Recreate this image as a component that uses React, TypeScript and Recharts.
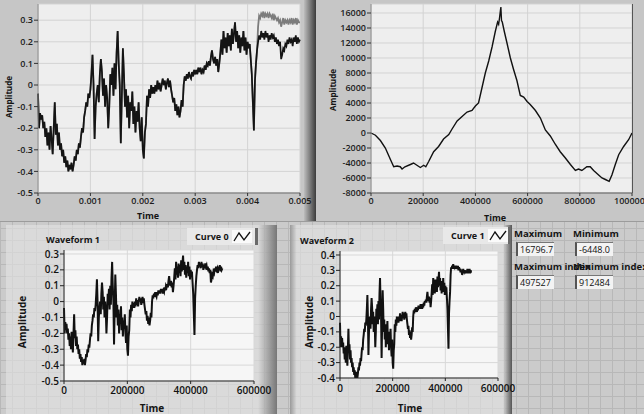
import { CartesianGrid, Line, LineChart, XAxis, YAxis } from "recharts";

// samples are 2000 apart (0.00002 s)
const SAMPLE_STEP_K = 2;

// Curve 0 and Curve 1 are the same up to sample 418000
const sharedHead = [
  -0.04, -0.2, -0.13, -0.16, -0.14, -0.2, -0.17, -0.24, -0.2, -0.28,
  -0.22, -0.3, -0.19, -0.25, -0.32, -0.2, -0.08, -0.23, -0.18, -0.28,
  -0.22, -0.3, -0.27, -0.33, -0.3, -0.36, -0.33, -0.38, -0.35, -0.4,
  -0.37, -0.39, -0.36, -0.4, -0.37, -0.33, -0.35, -0.3, -0.32, -0.27,
  -0.29, -0.24, -0.2, -0.22, -0.15, -0.12, -0.08, -0.1, -0.04, -0.06,
  -0.02, 0.05, 0.14, 0.0, -0.25, -0.1, -0.04, 0.0, -0.08, 0.05,
  0.12, 0.06, -0.05, 0.03, -0.1, 0.0, -0.06, -0.2, -0.1, 0.05,
  0.0, 0.08, -0.05, 0.1, -0.02, 0.15, 0.25, 0.1, 0.0, -0.27,
  -0.05, 0.17, 0.05, -0.1, -0.02, -0.15, -0.05, -0.2, -0.08, -0.12,
  -0.03, -0.18, -0.1, -0.22, -0.12, -0.17, -0.08, -0.2, -0.26, -0.15,
  -0.3, -0.34, -0.22, -0.18, -0.05, -0.1, -0.02, -0.06, 0.0, -0.04,
  -0.01, -0.04, 0.0, -0.03, 0.02, -0.02, 0.01, -0.03, 0.0, 0.03,
  0.0, 0.02, -0.02, 0.01, 0.03, -0.01, 0.02, -0.02, -0.05, -0.08,
  -0.06, -0.12, -0.09, -0.14, -0.1, -0.15, -0.12, -0.07, -0.1, 0.0,
  0.04, 0.02, 0.05, 0.03, 0.06, 0.04, 0.03, 0.06, 0.04, 0.07,
  0.05, 0.07, 0.05, 0.08, 0.06, 0.08, 0.05, 0.07, 0.06, 0.09,
  0.07, 0.1, 0.09, 0.11, 0.09, 0.13, 0.16, 0.12, 0.1, 0.13,
  0.09, 0.12, 0.06, 0.1, 0.15, 0.21, 0.14, 0.25, 0.17, 0.22,
  0.15, 0.24, 0.18, 0.23, 0.16, 0.26, 0.19, 0.24, 0.29, 0.2,
  0.25, 0.17, 0.23, 0.15, 0.22, 0.18, 0.25, 0.16, 0.22, 0.14,
  0.2, 0.17, 0.19, 0.12, 0.05, -0.08, -0.21, 0.02, 0.1, 0.16,
];

const curve0Tail = [
  0.2, 0.23, 0.21, 0.25, 0.22, 0.24, 0.21, 0.25, 0.22, 0.24,
  0.2, 0.23, 0.21, 0.24, 0.22, 0.23, 0.2, 0.22, 0.19, 0.21,
  0.18, 0.2, 0.12, 0.14, 0.17, 0.16, 0.19, 0.18, 0.21, 0.19,
  0.22, 0.2, 0.21, 0.18, 0.22, 0.2, 0.23, 0.19, 0.22, 0.2,
  0.21,
];

const curve1Tail = [
  0.27, 0.32, 0.31, 0.33, 0.32, 0.34, 0.31, 0.33, 0.32, 0.33,
  0.31, 0.33, 0.32, 0.31, 0.33, 0.3, 0.32, 0.31, 0.3, 0.31,
  0.29, 0.3, 0.27, 0.29, 0.31, 0.28, 0.3, 0.29, 0.3, 0.28,
  0.3, 0.29, 0.31, 0.28, 0.3, 0.29, 0.31, 0.28, 0.3, 0.29,
  0.29,
];

const curve0 = [...sharedHead, ...curve0Tail];
const curve1 = [...sharedHead, ...curve1Tail];

// cumulative sum, x in thousands of samples
const cumIndexK = [
  0, 17, 36, 55, 74, 87, 100, 112, 119, 130,
  151, 163, 176, 189, 202, 210, 221, 240, 259, 278,
  298, 310, 330, 349, 368, 387, 400, 412, 425, 438,
  451, 464, 476, 485, 489, 493, 497.5, 500, 503, 511,
  521, 534, 546, 559, 572, 585, 598, 610, 630, 649,
  668, 687, 706, 725, 744, 764, 783, 795, 808, 827,
  840, 853, 872, 885, 898, 912.5, 923, 936, 949, 968,
  987, 1000,
];
const cumValue = [
  0, -300, -1000, -2000, -3500, -4500, -4400, -4500, -4800, -4500,
  -4200, -4000, -4300, -4600, -4300, -4500, -3800, -2500, -1800, -800,
  -200, 500, 1600, 2200, 2800, 3000, 3600, 4000, 6000, 8000,
  9600, 11500, 13500, 14800, 14500, 15500, 16796.7, 15000, 14800, 13500,
  12000, 10000, 8500, 7000, 5000, 4800, 4200, 3800, 3000, 2000,
  400, -400, -1500, -2500, -3300, -4200, -5000, -4800, -5000, -4500,
  -4500, -5000, -5600, -6000, -6200, -6448, -5600, -4200, -2900, -1800,
  -900, 0,
];

const timeTicks = [0, 100, 200, 300, 400, 500];
const timeTickLabels = ["0", "0.001", "0.002", "0.003", "0.004", "0.005"];
const sumTicks = [0, 200, 400, 600, 800, 1000];
const sumTickLabels = ["0", "200000", "400000", "600000", "800000", "1000000"];
const indexTicks = [0, 200, 400, 600];
const indexTickLabels = ["0", "200000", "400000", "600000"];
const amp1Ticks = [-0.5, -0.4, -0.3, -0.2, -0.1, 0, 0.1, 0.2, 0.3];
const amp2Ticks = [-0.4, -0.3, -0.2, -0.1, 0, 0.1, 0.2, 0.3, 0.4];
const sumYTicks = [-8000, -6000, -4000, -2000, 0, 2000, 4000, 6000, 8000, 10000, 12000, 14000, 16000];

const indicators = [
  { label: "Maximum", value: "16796.7" },
  { label: "Minimum", value: "-6448.0" },
  { label: "Maximum index", value: "497527" },
  { label: "Minimum index", value: "912484" },
];

const waveData = curve0.map((v, i) => ({ k: i * SAMPLE_STEP_K, c0: v, c1: curve1[i] }));
const sumData = cumIndexK.map((k, i) => ({ k, v: cumValue[i] }));

const FONT = "'Open Sans', 'Noto Sans', sans-serif";
const smallTick = { fill: "#1c1c1c", fontSize: 9, fontWeight: 600, fontFamily: FONT };
const bigTick = { fill: "#111", fontSize: 10, fontWeight: 600, fontFamily: FONT };

const labelOf = (ticks: number[], labels: string[]) => (v: number) => labels[ticks.indexOf(v)] ?? String(v);

function Title({ x, y, text, size = 9, rotate = false }: { x: number; y: number; text: string; size?: number; rotate?: boolean }) {
  return (
    <div
      style={{
        position: "absolute",
        left: x,
        top: y,
        transform: `translate(-50%, -50%)${rotate ? " rotate(-90deg)" : ""}`,
        fontFamily: FONT,
        fontWeight: 700,
        fontSize: size,
        color: "#151515",
        whiteSpace: "nowrap",
      }}
    >
      {text}
    </div>
  );
}

function LegendBox({ x, y, w, text }: { x: number; y: number; w: number; text: string }) {
  return (
    <div
      style={{
        position: "absolute",
        left: x,
        top: y,
        width: w,
        height: 17,
        background: "#e8e8e8",
        borderRight: "3px solid #6a6a6a",
        boxSizing: "border-box",
        display: "flex",
        alignItems: "center",
        paddingLeft: 8,
        fontFamily: FONT,
        fontWeight: 700,
        fontSize: 9,
        color: "#151515",
      }}
    >
      <span>{text}</span>
      <svg width={20} height={13} style={{ marginLeft: 3, background: "#fafafa" }}>
        <polyline points="2,11 7,3 12,10 18,2" fill="none" stroke="#111" strokeWidth={1.3} />
      </svg>
    </div>
  );
}

export default function App() {
  return (
    <div
      style={{
        position: "absolute",
        left: 0,
        top: 0,
        width: 644,
        height: 414,
        overflow: "hidden",
        backgroundColor: "#cbcbcb",
        backgroundImage:
          "linear-gradient(#b8b8b8 1px, transparent 1px), linear-gradient(90deg, #b8b8b8 1px, transparent 1px)",
        backgroundSize: "12px 12px",
      }}
    >
      {/* top panels */}
      <div style={{ position: "absolute", left: 0, top: 0, width: 644, height: 221, background: "#c6c6c6", borderBottom: "1px solid #9c9c9c" }} />
      <div style={{ position: "absolute", left: 304, top: 0, width: 12, height: 221, background: "linear-gradient(to right, #bdbdbd, #3c3c3c)" }} />

      {/* bottom panels */}
      <div style={{ position: "absolute", left: 6, top: 225, width: 271, height: 189, background: "linear-gradient(to right, rgba(228,228,228,0.6) 93%, #777 100%)" }} />
      <div style={{ position: "absolute", left: 290, top: 225, width: 222, height: 189, background: "linear-gradient(to right, #9a9a9a 0%, rgba(228,228,228,0.6) 3%, rgba(228,228,228,0.6) 96%, #555 100%)" }} />

      <div style={{ position: "absolute", left: 0, top: 0 }}>
        <LineChart width={312} height={220} data={waveData} margin={{ top: 4, right: 12, left: 0, bottom: 0 }}>
          <CartesianGrid fill="#eeeeee" stroke="#d3d3d3" />
          <XAxis dataKey="k" type="number" domain={[0, 500]} ticks={timeTicks} interval={0} tickFormatter={labelOf(timeTicks, timeTickLabels)} height={27} tick={smallTick} tickSize={3} tickMargin={2} axisLine={{ stroke: "#666" }} tickLine={{ stroke: "#333" }} />
          <YAxis type="number" domain={[-0.5, 0.375]} ticks={amp1Ticks} interval={0} width={38} tick={smallTick} tickSize={4} tickMargin={1} axisLine={{ stroke: "#888" }} tickLine={{ stroke: "#333" }} />
          <Line dataKey="c1" stroke="#7c7c7c" strokeWidth={1.8} dot={false} isAnimationActive={false} />
          <Line dataKey="c0" stroke="#141414" strokeWidth={1.7} dot={false} isAnimationActive={false} />
        </LineChart>
      </div>
      <Title x={8} y={97} text="Amplitude" size={8} rotate />
      <Title x={148} y={215} text="Time" size={9} />

      <div style={{ position: "absolute", left: 316, top: 0 }}>
        <LineChart width={328} height={220} data={sumData} margin={{ top: 4, right: 12, left: 0, bottom: 0 }}>
          <CartesianGrid fill="#eeeeee" stroke="#d3d3d3" />
          <XAxis dataKey="k" type="number" domain={[0, 1000]} ticks={sumTicks} interval={0} tickFormatter={labelOf(sumTicks, sumTickLabels)} height={27} tick={smallTick} tickSize={3} tickMargin={2} axisLine={{ stroke: "#555" }} tickLine={{ stroke: "#333" }} />
          <YAxis type="number" domain={[-8000, 17200]} ticks={sumYTicks} interval={0} width={55} tick={smallTick} tickSize={4} tickMargin={1} axisLine={{ stroke: "#888" }} tickLine={{ stroke: "#333" }} />
          <Line dataKey="v" stroke="#111" strokeWidth={1.4} dot={false} isAnimationActive={false} />
        </LineChart>
      </div>
      <div style={{ position: "absolute", left: 632, top: 4, width: 1, height: 189, background: "#555" }} />
      <Title x={332} y={90} text="Amplitude" size={8} rotate />
      <Title x={495} y={217} text="Time" size={9} />

      <Title x={73} y={239} text="Waveform 1" size={9} />
      <LegendBox x={187} y={228} w={71} text="Curve 0" />
      <div style={{ position: "absolute", left: 5, top: 225 }}>
        <LineChart width={272} height={189} data={waveData} margin={{ top: 25, right: 23, left: 0, bottom: 0 }}>
          <CartesianGrid fill="#f6f6f6" stroke="#d8d8d8" />
          <XAxis dataKey="k" type="number" domain={[0, 600]} ticks={indexTicks} interval={0} tickFormatter={labelOf(indexTicks, indexTickLabels)} height={33} tick={bigTick} tickSize={3} tickMargin={3} axisLine={{ stroke: "#222" }} tickLine={{ stroke: "#222" }} />
          <YAxis type="number" domain={[-0.5, 0.325]} ticks={amp1Ticks} interval={0} width={59} tick={bigTick} tickSize={4} tickMargin={1} axisLine={{ stroke: "#222" }} tickLine={{ stroke: "#222" }} />
          <Line dataKey="c0" stroke="#111" strokeWidth={2} dot={false} isAnimationActive={false} />
        </LineChart>
      </div>
      <Title x={22} y={322} text="Amplitude" size={10} rotate />
      <Title x={152} y={408} text="Time" size={10} />

      <Title x={327} y={240} text="Waveform 2" size={9} />
      <LegendBox x={443} y={227} w={68} text="Curve 1" />
      <div style={{ position: "absolute", left: 287, top: 225 }}>
        <LineChart width={243} height={189} data={waveData} margin={{ top: 26, right: 32, left: 0, bottom: 0 }}>
          <CartesianGrid fill="#f6f6f6" stroke="#d8d8d8" />
          <XAxis dataKey="k" type="number" domain={[0, 600]} ticks={indexTicks} interval={0} tickFormatter={labelOf(indexTicks, indexTickLabels)} height={36} tick={bigTick} tickSize={3} tickMargin={4} axisLine={{ stroke: "#222" }} tickLine={{ stroke: "#222" }} />
          <YAxis type="number" domain={[-0.4, 0.426]} ticks={amp2Ticks} interval={0} width={53} tick={bigTick} tickSize={4} tickMargin={1} axisLine={{ stroke: "#222" }} tickLine={{ stroke: "#222" }} />
          <Line dataKey="c1" stroke="#111" strokeWidth={2} dot={false} isAnimationActive={false} />
        </LineChart>
      </div>
      <Title x={309} y={322} text="Amplitude" size={10} rotate />
      <Title x={410} y={408} text="Time" size={10} />

      {indicators.map((d, i) => {
        const left = i % 2 === 0 ? 514 : 573;
        const top = i < 2 ? 228 : 261;
        return (
          <div key={d.label} style={{ position: "absolute", left, top }}>
            <div style={{ fontFamily: FONT, fontWeight: 700, fontSize: 9.5, color: "#151515", whiteSpace: "nowrap", lineHeight: "12px" }}>{d.label}</div>
            <div
              style={{
                marginTop: 2,
                marginLeft: 2,
                width: 38,
                height: 14,
                background: "#f3f3f3",
                borderTop: "1px solid #777",
                borderLeft: "2px solid #555",
                boxSizing: "border-box",
                fontFamily: FONT,
                fontSize: 9,
                lineHeight: "13px",
                paddingLeft: 2,
                color: "#111",
                overflow: "hidden",
                whiteSpace: "nowrap",
              }}
            >
              {d.value}
            </div>
          </div>
        );
      })}
    </div>
  );
}
